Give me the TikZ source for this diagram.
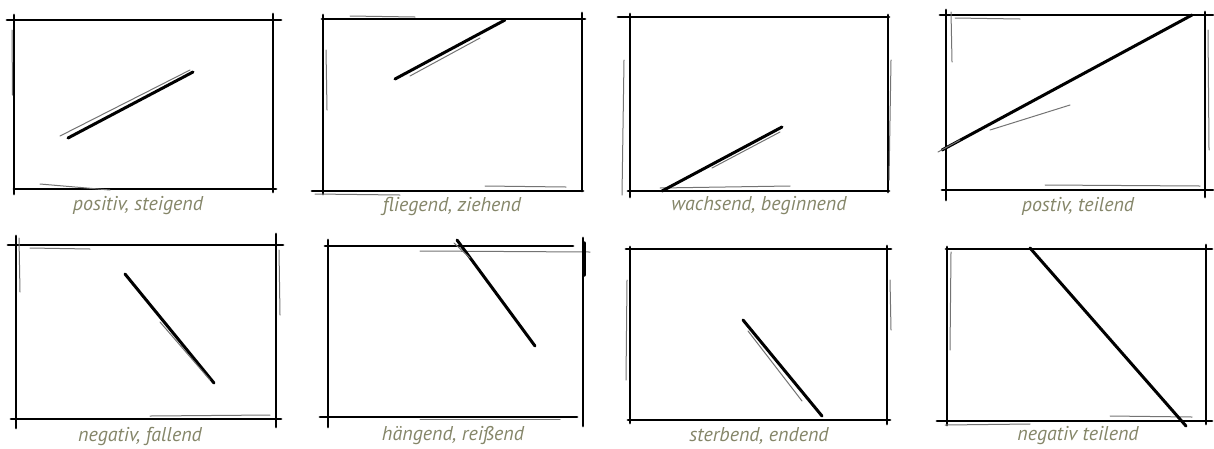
\documentclass[tikz,border=0pt]{standalone}
\usepackage{fontspec}
\newfontfamily\capfont{PT Sans}
\definecolor{capgray}{HTML}{858669}
\begin{document}
\begin{tikzpicture}[x=1pt,y=-1pt,
  frame/.style={black, line width=2.8pt, line cap=round},
  stroke/.style={black, line width=3pt, line cap=round},
  sketch/.style={black!55, line width=1pt, line cap=round},
  caption/.style={text=capgray, font=\capfont\itshape\fontsize{20}{22}\selectfont, inner sep=0pt, anchor=center}]
\useasboundingbox (0,0) rectangle (1214,448);
% ---------- panel 1
\draw[frame] (7,20) -- (281,20);
\draw[frame] (14,15) -- (14,194);
\draw[frame] (273,14) -- (273,192);
\draw[frame] (14,189) -- (276,189);
\draw[sketch] (12,30) -- (12.5,95);
\draw[sketch] (40,184) -- (110,190);
\draw[stroke] (68,138) -- (193,72);
\draw[sketch] (60,136) -- (190,70);
\node[caption] (c1) at (138,206) {positiv, steigend};
% ---------- panel 2
\draw[frame] (322,19) -- (585,19);
\draw[frame] (323,15) -- (323,194);
\draw[frame] (582,13) -- (582,191);
\draw[frame] (312,191) -- (583,191);
\draw[sketch] (350,16) -- (415,17);
\draw[sketch] (326,50) -- (327,110);
\draw[sketch] (485,186) -- (566,187);
\draw[sketch] (315,194) -- (400,195);
\draw[stroke] (395,79) -- (505,20);
\draw[sketch] (410,76) -- (480,38);
\node[caption] (c2) at (452,206) {fliegend, ziehend};
% ---------- panel 3
\draw[frame] (618,17) -- (889,17);
\draw[frame] (630,14) -- (630,197);
\draw[frame] (888,15) -- (888,192);
\draw[frame] (628,191) -- (889,191);
\draw[sketch] (624,60) -- (622,195);
\draw[sketch] (891,60) -- (889,180);
\draw[sketch] (660,188) -- (790,186);
\draw[stroke] (662,191) -- (782,127);
\draw[sketch] (712,168) -- (780,132);
\node[caption] (c3) at (759,206) {wachsend, beginnend};
% ---------- panel 4
\draw[frame] (940,15) -- (1213,15);
\draw[frame] (946,10) -- (946,200);
\draw[frame] (1205,12) -- (1205,197);
\draw[frame] (942,190) -- (1213,190);
\draw[sketch] (951,12) -- (952,62);
\draw[sketch] (1208,30) -- (1209,150);
\draw[sketch] (1045,185) -- (1200,186);
\draw[sketch] (955,18) -- (1020,19);
\draw[stroke] (942,150) -- (1192,15);
\draw[sketch] (990,130) -- (1070,105);
\draw[sketch] (938,152) -- (960,140);
\node[caption] (c4) at (1078,206) {postiv, teilend};
% ---------- panel 5
\draw[frame] (8,245) -- (283,245);
\draw[frame] (16,236) -- (16,428);
\draw[frame] (276,234) -- (276,427);
\draw[frame] (11,419) -- (281,419);
\draw[sketch] (19,238) -- (20,292);
\draw[sketch] (279,250) -- (280,315);
\draw[sketch] (150,416) -- (270,415);
\draw[sketch] (30,248) -- (90,249);
\draw[stroke] (125,274) -- (214,383);
\draw[sketch] (160,322) -- (210,380);
\node[caption] (c5) at (140,436) {negativ, fallend};
% ---------- panel 6
\draw[frame] (325,246) -- (573,246);
\draw[sketch] (420,251) -- (590,252);
\draw[frame] (328,240) -- (328,427);
\draw[frame] (583,238) -- (583,426);
\draw[black, line width=3.5pt, line cap=round] (584,243) -- (584,275);
\draw[frame] (320,417) -- (577,417);
\draw[sketch] (420,419) -- (560,419);
\draw[stroke] (457,240) -- (535,346);
\draw[sketch] (454,243) -- (470,258);
\node[caption] (c6) at (453,436) {hängend, reißend};
% ---------- panel 7
\draw[frame] (626,249) -- (891,249);
\draw[frame] (630,247) -- (630,423);
\draw[frame] (887,246) -- (887,424);
\draw[frame] (628,420) -- (890,420);
\draw[sketch] (627,280) -- (626,380);
\draw[sketch] (890,280) -- (891,330);
\draw[stroke] (743,320) -- (822,416);
\draw[sketch] (748,331) -- (802,401);
\node[caption] (c7) at (759,436) {sterbend, endend};
% ---------- panel 8
\draw[frame] (946,249) -- (1212,249);
\draw[frame] (947,247) -- (947,425);
\draw[frame] (1206,245) -- (1206,424);
\draw[frame] (937,421) -- (1212,421);
\draw[sketch] (951,252) -- (950,350);
\draw[sketch] (1110,416) -- (1192,417);
\draw[sketch] (945,425) -- (1030,424);
\draw[stroke] (1030,248) -- (1186,426);
\node[caption] (c8) at (1078,436) {negativ teilend};
\end{tikzpicture}
\end{document}
